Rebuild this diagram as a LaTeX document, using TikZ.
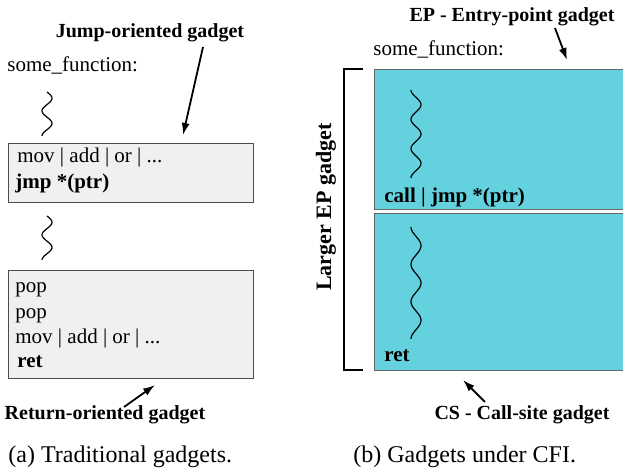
\documentclass[tikz,border=0pt]{standalone}
\usepackage{fontspec}
\setmainfont{Liberation Serif}
\usetikzlibrary{arrows.meta}
\definecolor{cfiCyan}{RGB}{100,210,222}
\definecolor{gadgetGray}{RGB}{240,240,240}
\begin{document}
\begin{tikzpicture}[x=0.5pt, y=-0.5pt, >={Latex[length=6pt, width=4pt]},
		every node/.style={inner sep=0pt, font=\fontsize{10.5}{12}\selectfont},
		gadgetBox/.style={draw=black!70, fill=gadgetGray, line width=0.6pt, anchor=north west, minimum width=122.5pt},
		cfiBox/.style={draw=black!60, fill=cfiCyan, line width=0.6pt, anchor=north west, minimum width=135pt},
		code/.style={anchor=base west},
		tag/.style={anchor=base, font=\fontsize{10}{12}\selectfont\bfseries},
		caption/.style={anchor=base west, font=\fontsize{12}{14}\selectfont}]
		\useasboundingbox (0,0) rectangle (623,470);

		% (a) traditional gadgets
		\node[tag] (jopTag) at (150,38) {Jump-oriented gadget};
		\node[code] (funcA) at (7,72) {some\_function:};
		\draw[line width=0.6pt] plot[smooth, domain=0:1, samples=60] ({47+5*sin(630*\x)}, {92+44*\x});

		\node[gadgetBox, minimum height=29.5pt] (jopBox) at (8,143) {};
		\node[code] (jopMov) at (17,163) {mov | add | or | ...};
		\node[code, font=\fontsize{10.5}{12}\selectfont\bfseries] (jopJmp) at (15,189) {jmp *(ptr)};

		\draw[line width=0.6pt] plot[smooth, domain=0:1, samples=60] ({47+5*sin(630*\x)}, {216+44*\x});

		\node[gadgetBox, minimum height=54pt] (ropBox) at (8,270) {};
		\node[code] (ropPopA) at (15,293) {pop};
		\node[code] (ropPopB) at (15,319) {pop};
		\node[code] (ropMov) at (15,344) {mov | add | or | ...};
		\node[code, font=\fontsize{10.5}{12}\selectfont\bfseries] (ropRet) at (17,368) {ret};

		\node[tag] (ropTag) at (105,420) {Return-oriented gadget};
		\node[caption] (capA) at (8,463) {(a) Traditional gadgets.};

		\coordinate (jopTail) at (203,47);
		\coordinate (jopTip) at (183,135);
		\coordinate (ropTail) at (124,407);
		\coordinate (ropTip) at (155,385);
		\draw[->, line width=0.9pt] (jopTail) -- (jopTip);
		\draw[->, line width=0.9pt] (ropTail) -- (ropTip);

		% (b) gadgets under CFI
		\node[tag] (epTag) at (512,22) {EP - Entry-point gadget};
		\node[code] (funcB) at (373,56) {some\_function:};

		\node[cfiBox, minimum height=70pt] (epBox) at (374,69) {};
		\node[cfiBox, minimum height=78.5pt] (csBox) at (374,213) {};
		\draw[line width=0.6pt] plot[smooth, domain=0:1, samples=80] ({416-5*cos(1080*\x)}, {90+88*\x});
		\draw[line width=0.6pt] plot[smooth, domain=0:1, samples=80] ({416-5*cos(1080*\x)}, {227+112*\x});
		\node[code, font=\fontsize{10.5}{12}\selectfont\bfseries] (epCall) at (384,203) {call | jmp *(ptr)};
		\node[code, font=\fontsize{10.5}{12}\selectfont\bfseries] (csRet) at (384,362) {ret};

		\draw[line width=1pt] (363,69) -- (344,69) -- (344,370) -- (363,370);
		\node[tag, anchor=center, rotate=90, font=\fontsize{11}{12}\selectfont\bfseries] (largerTag) at (326,207) {Larger EP gadget};

		\node[tag] (csTag) at (522,420) {CS - Call-site gadget};
		\node[caption] (capB) at (353,463) {(b) Gadgets under CFI.};

		\coordinate (epTail) at (555,28);
		\coordinate (epTip) at (567,60);
		\coordinate (csTail) at (485,402);
		\coordinate (csTip) at (463,380);
		\draw[->, line width=0.9pt] (epTail) -- (epTip);
		\draw[->, line width=0.9pt] (csTail) -- (csTip);
	\end{tikzpicture}
\end{document}
